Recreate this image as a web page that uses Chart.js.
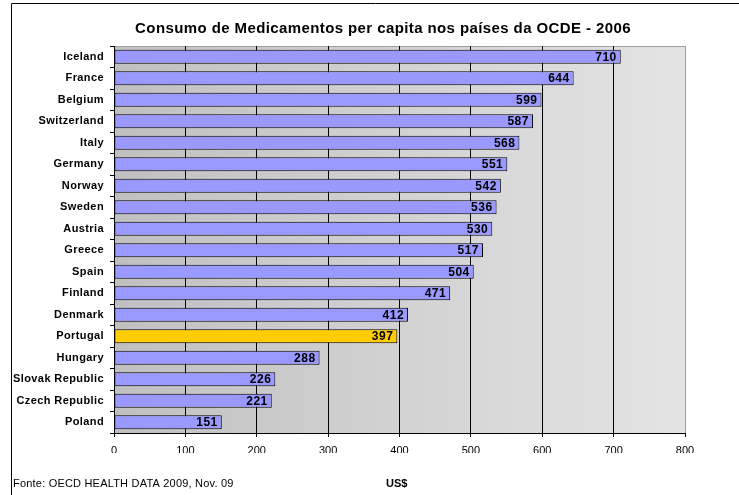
<!DOCTYPE html>
<html>
<head>
<meta charset="utf-8">
<script src="https://cdn.jsdelivr.net/npm/chart.js@4/dist/chart.umd.min.js"></script>
<style>
  html, body { margin: 0; padding: 0; background: #fff; }
  #wrap { position: relative; width: 739px; height: 495px; }
</style>
</head>
<body>
<div id="wrap"><canvas id="chart" width="739" height="495"></canvas></div>
<script>
// data
var countries = ["Iceland", "France", "Belgium", "Switzerland", "Italy", "Germany", "Norway", "Sweden",
  "Austria", "Greece", "Spain", "Finland", "Denmark", "Portugal", "Hungary", "Slovak Republic",
  "Czech Republic", "Poland"];
var spending = [710, 644, 599, 587, 568, 551, 542, 536, 530, 517, 504, 471, 412, 397, 288, 226, 221, 151];
var xTicks = [0, 100, 200, 300, 400, 500, 600, 700, 800];
var highlight = "Portugal";

var titleText = "Consumo de Medicamentos per capita nos países da OCDE - 2006";
var sourceText = "Fonte: OECD HEALTH DATA 2009, Nov. 09";
var unitText = "US$";

var FONT = "'Liberation Sans', Arial, sans-serif";

var barColors = countries.map(function(c) { return c === highlight ? "#FFCC00" : "#9999FF"; });

// gray gradient behind the bars + frame around plot area
var plotBackground = {
  id: "plotBackground",
  afterLayout: function(chart) {
    // country names are a bit spread out in the picture
    var ys = chart.scales.y;
    if (!ys._spaced) {
      var orig = ys.drawLabels;
      ys.drawLabels = function(area) {
        var ctx = this.ctx;
        ctx.letterSpacing = "0.4px";
        orig.call(this, area);
        ctx.letterSpacing = "0px";
      };
      ys._spaced = true;
    }
  },
  beforeDraw: function(chart) {
    var ctx = chart.ctx, a = chart.chartArea;
    ctx.save();
    var g = ctx.createLinearGradient(a.left, 0, a.right, 0);
    g.addColorStop(0, "#c0c0c0");
    g.addColorStop(1, "#e4e4e4");
    ctx.fillStyle = g;
    ctx.fillRect(a.left, a.top, a.right - a.left, a.bottom - a.top);
    ctx.strokeStyle = "#a0a0a0";
    ctx.lineWidth = 1;
    ctx.beginPath();
    ctx.moveTo(a.left, a.top + 0.5);
    ctx.lineTo(a.right + 0.5, a.top + 0.5);
    ctx.lineTo(a.right + 0.5, a.bottom);
    ctx.stroke();
    // outer chart frame
    ctx.strokeStyle = "#000";
    ctx.beginPath();
    ctx.moveTo(11.5, 495);
    ctx.lineTo(11.5, 3.5);
    ctx.lineTo(739, 3.5);
    ctx.stroke();
    ctx.restore();
  }
};

// title, source note, unit label, value labels
var extraText = {
  id: "extraText",
  afterDatasetsDraw: function(chart) {
    var ctx = chart.ctx;
    ctx.save();
    ctx.fillStyle = "#000";
    ctx.textBaseline = "middle";
    ctx.letterSpacing = "0.4px";
    ctx.font = "bold 15px " + FONT;
    ctx.textAlign = "center";
    ctx.fillText(titleText, 383, 29);

    ctx.letterSpacing = "0.2px";
    ctx.font = "11px " + FONT;
    ctx.textAlign = "left";
    ctx.fillText(sourceText, 13, 484);
    ctx.letterSpacing = "0px";
    ctx.font = "bold 11px " + FONT;
    ctx.fillText(unitText, 386, 484);

    var meta = chart.getDatasetMeta(0);
    ctx.letterSpacing = "0.5px";
    ctx.font = "bold 12px " + FONT;
    ctx.textAlign = "right";
    meta.data.forEach(function(bar, i) {
      ctx.fillText(spending[i], bar.x - 4, bar.y + 0.5);
    });
    ctx.restore();
    ctx.letterSpacing = "0px";
  }
};

new Chart(document.getElementById("chart"), {
  type: "bar",
  data: {
    labels: countries,
    datasets: [{
      data: spending,
      backgroundColor: barColors,
      borderColor: "#000",
      borderWidth: 1,
      borderSkipped: false,
      barPercentage: 0.66,
      categoryPercentage: 1
    }]
  },
  options: {
    indexAxis: "y",
    responsive: false,
    animation: false,
    layout: { padding: { left: 0, top: 46, right: 54, bottom: 42 } },
    plugins: {
      legend: { display: false },
      tooltip: { enabled: false }
    },
    scales: {
      x: {
        min: 0,
        max: 800,
        afterBuildTicks: function(axis) {
          axis.ticks = xTicks.map(function(v) { return { value: v }; });
        },
        afterFit: function(axis) { axis.height = 20; },
        grid: {
          color: function(c) { return c.tick && c.tick.value === 800 ? "#a0a0a0" : "#000"; },
          lineWidth: 1,
          drawTicks: true,
          tickLength: 4,
          tickColor: "#000"
        },
        border: { color: "#000", width: 1 },
        ticks: {
          color: "#000",
          padding: 7,
          font: { family: FONT, size: 11 }
        }
      },
      y: {
        afterFit: function(axis) { axis.width = 114; },
        grid: {
          offset: true,
          drawOnChartArea: false,
          drawTicks: true,
          tickLength: 4,
          color: "#000"
        },
        border: { color: "#000", width: 1 },
        ticks: {
          color: "#000",
          padding: 6,
          font: { family: FONT, size: 11, weight: "bold" }
        }
      }
    }
  },
  plugins: [plotBackground, extraText]
});
</script>
</body>
</html>
